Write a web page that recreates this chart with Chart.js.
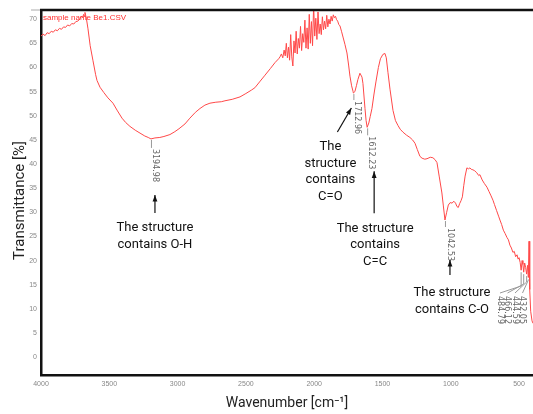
<!DOCTYPE html>
<html>
<head>
<meta charset="utf-8">
<script src="https://cdn.jsdelivr.net/npm/chart.js@4.4.1/dist/chart.umd.min.js"></script>
<style>
  html, body { margin: 0; padding: 0; background: #fff; }
</style>
</head>
<body>
<canvas id="myChart" width="533" height="414"></canvas>
<script>
// IR spectrum (wavenumber in cm-1, transmittance in %)
const wavenumber = [
  4000, 3985, 3970, 3955, 3940, 3925, 3910, 3895, 3880, 3865,
  3850, 3835, 3820, 3805, 3790, 3775, 3760, 3745, 3730, 3715,
  3705, 3695, 3688, 3682, 3678, 3668, 3656, 3640, 3620, 3600,
  3590, 3568, 3540, 3510, 3473, 3440, 3407, 3380, 3349, 3310,
  3275, 3240, 3215, 3194.98, 3166, 3130, 3100, 3056, 3020, 2990,
  2946, 2910, 2870, 2836, 2800, 2763, 2720, 2680, 2653, 2600,
  2543, 2500, 2460, 2434, 2400, 2360, 2320, 2287, 2260, 2250,
  2240, 2230, 2220, 2212, 2204, 2196, 2188, 2180, 2172, 2164,
  2156, 2148, 2140, 2132, 2124, 2116, 2108, 2100, 2092, 2084,
  2076, 2068, 2060, 2052, 2044, 2036, 2028, 2020, 2012, 2004,
  1996, 1988, 1980, 1972, 1964, 1956, 1948, 1940, 1932, 1924,
  1916, 1908, 1900, 1892, 1884, 1876, 1868, 1860, 1852, 1844,
  1836, 1828, 1820, 1811, 1800, 1789, 1775, 1760, 1748, 1738,
  1726, 1716, 1712.96, 1702, 1690, 1680, 1665, 1650, 1643, 1628,
  1620, 1612.23, 1600, 1590, 1577, 1562, 1548, 1530, 1515, 1497,
  1482, 1472, 1460, 1445, 1423, 1405, 1387, 1370, 1350, 1325,
  1299, 1280, 1262, 1245, 1226, 1210, 1190, 1174, 1150, 1131,
  1115, 1101, 1085, 1065, 1055, 1042.53, 1030, 1018, 1005, 990,
  978, 965, 955, 945, 935, 925, 915, 905, 895, 882,
  870, 860, 850, 838, 825, 810, 795, 787, 770, 755,
  735, 720, 705, 691, 680, 665, 650, 640, 628, 615,
  602, 589, 578, 567, 556, 545, 535, 525, 515, 507,
  500, 492, 484.79, 478, 472, 466.12, 459, 452, 444.59, 438,
  432.05, 427, 422, 415, 405, 398
];
const transmittance = [
  66.5, 66.9, 66.6, 67.2, 67.0, 67.5, 67.3, 67.8, 67.6, 68.1,
  67.9, 68.4, 68.3, 68.8, 68.6, 69.1, 69.0, 69.5, 69.6, 70.1,
  70.6, 70.3, 71.0, 70.6, 71.4, 70.2, 68.0, 64.5, 61.5, 58.5,
  57.3, 55.9, 54.8, 53.7, 52.6, 51.0, 49.5, 48.6, 47.8, 47.0,
  46.4, 45.8, 45.5, 45.2, 45.4, 45.5, 45.7, 46.1, 46.7, 47.3,
  48.3, 49.5, 50.7, 51.5, 52.2, 52.6, 52.8, 52.9, 53.1, 53.4,
  53.9, 54.6, 55.3, 55.8, 57.0, 58.4, 59.8, 61.0, 61.8, 62.2,
  62.8, 62.0, 63.6, 62.4, 65.0, 62.0, 64.2, 61.5, 66.8, 62.2,
  60.3, 65.5, 63.0, 67.5, 62.8, 66.0, 64.0, 68.5, 63.5, 67.0,
  65.2, 69.8, 64.0, 68.2, 63.8, 71.0, 65.0, 69.5, 64.5, 72.8,
  66.5, 70.2, 65.8, 71.5, 67.0, 69.0, 66.8, 70.5, 67.8, 69.6,
  68.0, 70.8, 68.4, 70.0, 69.0, 70.6, 69.6, 70.9, 70.3, 70.6,
  69.9, 69.6, 68.9, 68.6, 67.5, 66.3, 64.8, 63.0, 60.5, 58.2,
  56.2, 55.1, 54.7, 55.0, 56.3, 57.5, 58.8, 58.0, 56.7, 51.5,
  49.0, 47.6, 48.5, 49.8, 51.5, 54.5, 57.0, 60.0, 61.8, 62.7,
  62.9, 62.0, 59.0, 55.5, 51.1, 49.0, 48.0, 47.2, 46.6, 46.0,
  45.5, 45.0, 44.3, 43.0, 41.6, 41.2, 41.0, 41.1, 41.4, 41.3,
  40.9, 40.3, 37.5, 34.0, 31.5, 28.4, 30.0, 31.5, 32.0, 31.9,
  32.3, 31.9, 31.2, 31.0, 31.8, 32.4, 33.2, 35.5, 37.5, 39.2,
  39.0, 39.2, 38.9, 38.8, 38.6, 38.2, 37.6, 37.8, 36.7, 36.0,
  35.2, 34.3, 33.4, 32.5, 31.6, 30.4, 29.2, 28.4, 27.5, 26.3,
  25.6, 24.8, 24.3, 23.2, 22.6, 21.7, 21.9, 20.8, 21.2, 20.3,
  20.6, 19.6, 18.0, 20.0, 19.2, 17.6, 19.5, 18.6, 17.2, 19.0,
  16.5, 24.0, 14.0, 9.5, 7.5, 7.0
];

const xTicks = [4000, 3500, 3000, 2500, 2000, 1500, 1000, 500];
const yTicks = [0, 5, 10, 15, 20, 25, 30, 35, 40, 45, 50, 55, 60, 65, 70];

// picked peaks and their notes
const peakWave = [3194.98, 1712.96, 1612.23, 1042.53];
const peakText = ['3194.98', '1712.96', '1612.23', '1042.53'];
const peakNote = [
  ['The structure', 'contains O-H'],
  ['The', 'structure', 'contains', 'C=O'],
  ['The structure', 'contains', 'C=C'],
  ['The structure', 'contains C-O']
];
const lowWave = [484.79, 466.12, 444.59, 432.05];
const lowText = ['484.79', '466.12', '444.59', '432.05'];

const sampleName = 'sample name Be1.CSV';
const yTitle = 'Transmittance [%]';

function valueAt(w) {
  return transmittance[wavenumber.indexOf(w)];
}

// offsets (px) from the peak point: value label, arrow tail/tip, note centre
const noteLayout = [
  { lx: 4, ly: 9, ax: 4, a0: 74, a1: 56, nx: 4, ny: 89 },
  { lx: 4, ly: 7, ax: -16, a0: 39, ax1: -2, a1: 15, nx: -23, ny: 54 },
  { lx: 4, ly: 8, ax: 7, a0: 86, a1: 44, nx: 8, ny: 101 },
  { lx: 5, ly: 7, ax: 5, a0: 55, a1: 40, nx: 7, ny: 73 }
];

function arrow(ctx, x0, y0, x1, y1) {
  const ang = Math.atan2(y1 - y0, x1 - x0);
  ctx.beginPath();
  ctx.moveTo(x0, y0);
  ctx.lineTo(x1, y1);
  ctx.stroke();
  ctx.beginPath();
  ctx.moveTo(x1, y1);
  ctx.lineTo(x1 - 7 * Math.cos(ang - 0.35), y1 - 7 * Math.sin(ang - 0.35));
  ctx.lineTo(x1 - 7 * Math.cos(ang + 0.35), y1 - 7 * Math.sin(ang + 0.35));
  ctx.closePath();
  ctx.fill();
}

function sideText(ctx, txt, x, y) {
  ctx.save();
  ctx.translate(x, y);
  ctx.rotate(Math.PI / 2);
  ctx.textAlign = 'left';
  ctx.textBaseline = 'middle';
  ctx.fillText(txt, 0, 0);
  ctx.restore();
}

const notes = {
  id: 'notes',
  afterDatasetsDraw(chart) {
    const { ctx, chartArea, scales: { x, y } } = chart;
    ctx.save();

    // top edge of the frame
    ctx.strokeStyle = '#111';
    ctx.lineWidth = 2.5;
    ctx.beginPath();
    ctx.moveTo(chartArea.left - 1, chartArea.top);
    ctx.lineTo(chartArea.right, chartArea.top);
    ctx.stroke();
    ctx.strokeStyle = '#aaa';
    ctx.lineWidth = 1;
    ctx.beginPath();
    ctx.moveTo(chartArea.left - 10, chartArea.top);
    ctx.lineTo(chartArea.left - 1, chartArea.top);
    ctx.stroke();

    // y axis title, sitting a little below the middle of the axis
    ctx.save();
    ctx.translate(20, (chartArea.top + chartArea.bottom) / 2 + 8);
    ctx.rotate(-Math.PI / 2);
    ctx.fillStyle = '#222';
    ctx.font = '15px Roboto, sans-serif';
    ctx.textAlign = 'center';
    ctx.textBaseline = 'middle';
    ctx.fillText(yTitle, 0, 0);
    ctx.restore();

    ctx.fillStyle = '#ff3030';
    ctx.font = '8px "Liberation Sans Narrow", "Liberation Sans", sans-serif';
    ctx.textAlign = 'left';
    ctx.textBaseline = 'middle';
    ctx.fillText(sampleName, chartArea.left + 2, chartArea.top + 8);

    peakWave.forEach((w, i) => {
      const px = x.getPixelForValue(w);
      const py = y.getPixelForValue(valueAt(w));
      const L = noteLayout[i];

      ctx.strokeStyle = '#999';
      ctx.lineWidth = 1;
      ctx.beginPath();
      ctx.moveTo(px + 0.5, py + 1);
      ctx.lineTo(px + 0.5, py + L.ly);
      ctx.stroke();

      ctx.fillStyle = '#666';
      ctx.font = '8px "DejaVu Sans", sans-serif';
      sideText(ctx, peakText[i], px + L.lx, py + L.ly + 1);

      ctx.strokeStyle = '#111';
      ctx.fillStyle = '#111';
      ctx.lineWidth = 1.2;
      const ax1 = L.ax1 !== undefined ? L.ax1 : L.ax;
      arrow(ctx, px + L.ax, py + L.a0, px + ax1, py + L.a1);

      ctx.fillStyle = '#111';
      ctx.font = '13px Roboto, sans-serif';
      ctx.textAlign = 'center';
      ctx.textBaseline = 'middle';
      peakNote[i].forEach((line, k) => {
        ctx.fillText(line, px + L.nx, py + L.ny + k * 16.5);
      });
    });

    // the crowded picks at the low end share one fan of leaders
    lowWave.forEach((w, i) => {
      const px = x.getPixelForValue(w);
      const py = y.getPixelForValue(valueAt(w));
      const lx = chartArea.right - 33 + i * 7.5;
      ctx.strokeStyle = '#999';
      ctx.lineWidth = 1;
      ctx.beginPath();
      ctx.moveTo(px, py + 2);
      ctx.lineTo(px, 286 - i * 2);
      ctx.lineTo(lx, 293);
      ctx.stroke();
      ctx.fillStyle = '#666';
      ctx.font = '8px "DejaVu Sans", sans-serif';
      sideText(ctx, lowText[i], lx, 296);
    });

    ctx.restore();
  }
};

const points = wavenumber.map((w, i) => ({ x: w, y: transmittance[i] }));

new Chart('myChart', {
  type: 'scatter',
  data: {
    datasets: [{
      data: points,
      showLine: true,
      borderColor: '#ff4848',
      borderWidth: 1,
      pointRadius: 0,
      tension: 0
    }]
  },
  options: {
    responsive: false,
    animation: false,
    layout: { padding: { top: 10, right: 0, bottom: 0, left: 0 } },
    plugins: { legend: { display: false }, tooltip: { enabled: false } },
    scales: {
      x: {
        type: 'linear',
        reverse: true,
        min: 398,
        max: 4000,
        afterBuildTicks: s => { s.ticks = xTicks.map(v => ({ value: v })); },
        afterFit: s => { s.height = 39; },
        grid: { display: false, drawTicks: false },
        border: { display: true, color: '#111', width: 2.5 },
        ticks: {
          padding: 5,
          maxRotation: 0,
          autoSkip: false,
          color: '#888',
          font: { family: '"Liberation Sans Narrow", "Liberation Sans", sans-serif', size: 7 },
          callback: v => String(v)
        },
        title: {
          display: true,
          text: 'Wavenumber [cm\u207B\u00B9]',
          color: '#222',
          font: { family: 'Roboto, sans-serif', size: 14 },
          padding: { top: 0, bottom: 2 }
        }
      },
      y: {
        min: -3.7,
        max: 71.9,
        afterBuildTicks: s => { s.ticks = yTicks.map(v => ({ value: v })); },
        afterFit: s => { s.width = 41; },
        grid: { display: false, drawTicks: false },
        border: { display: true, color: '#111', width: 2.5 },
        ticks: {
          padding: 4,
          autoSkip: false,
          color: '#888',
          font: { family: '"Liberation Sans Narrow", "Liberation Sans", sans-serif', size: 7 }
        }
      }
    }
  },
  plugins: [notes]
});
</script>
</body>
</html>
